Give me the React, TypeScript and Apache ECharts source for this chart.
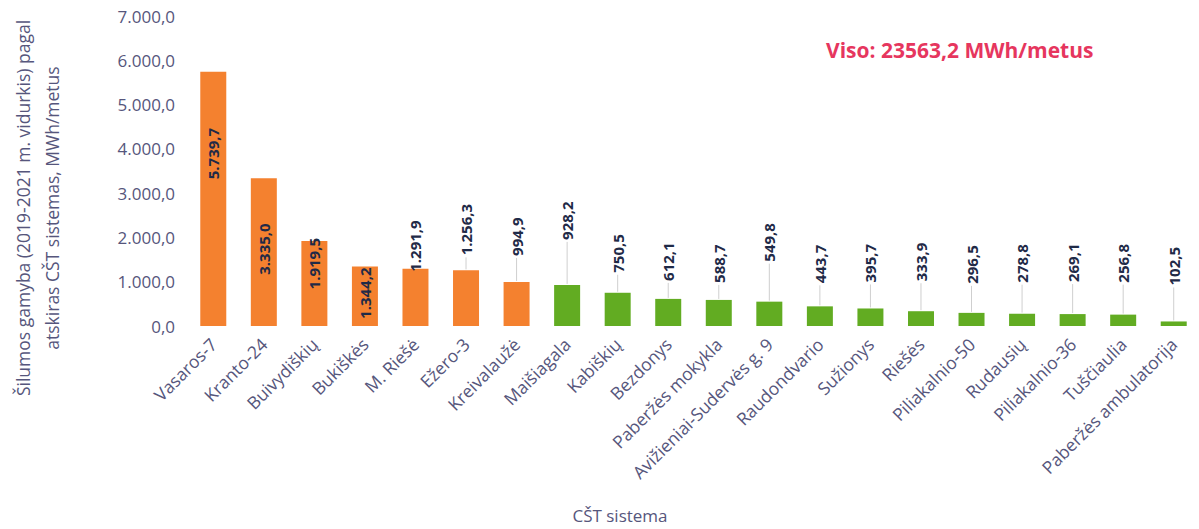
import React, { useEffect, useRef } from "react";
import * as echarts from "echarts";

const categories = [
  "Vasaros-7", "Kranto-24", "Buivydiškių", "Bukiškės", "M. Riešė", "Ežero-3", "Kreivalaužė",
  "Maišiagala", "Kabiškių", "Bezdonys", "Paberžės mokykla", "Avižieniai-Sudervės g. 9",
  "Raudondvario", "Sužionys", "Riešės", "Piliakalnio-50", "Rudausių", "Piliakalnio-36",
  "Tuščiaulia", "Paberžės ambulatorija",
];
const values = [
  5739.7, 3335.0, 1919.5, 1344.2, 1291.9, 1256.3, 994.9,
  928.2, 750.5, 612.1, 588.7, 549.8, 443.7, 395.7, 333.9, 296.5, 278.8, 269.1, 256.8, 102.5,
];
// group of each system: "o" = orange group, "g" = green group
const groups = ["o", "o", "o", "o", "o", "o", "o", "g", "g", "g", "g", "g", "g", "g", "g", "g", "g", "g", "g", "g"];
const yTicks = [0, 1000, 2000, 3000, 4000, 5000, 6000, 7000];
const totalText = "Viso: 23563,2 MWh/metus";
const yTitle = "Šilumos gamyba (2019-2021 m. vidurkis) pagal\natskiras CŠT sistemas, MWh/metus";
const xTitle = "CŠT sistema";

// label placement (style): inside labels = offset from bar top to text top (px);
// outside labels = gap from bar top up to text bottom (px)
const labelInside = [56, 45, -3, 1, null, null, null, null, null, null, null, null, null, null, null, null, null, null, null, null];
const labelGap = [0, 0, 0, 0, -3, 15, 26, 45, 20, 18, 17, 40, 23, 26, 30, 29, 31, 32, 32, 36];

const COLORS: Record<string, string> = { o: "#F4812F", g: "#62AC22" };
const LABEL = "#1f2a47";
const AXIS = "#56567c";
const FONT = "'Open Sans', 'Noto Sans', sans-serif";

const fmt = (v: number) => {
  const [i, d] = v.toFixed(1).split(".");
  return i.replace(/\B(?=(\d{3})+(?!\d))/g, ".") + "," + d;
};

function makeItem(i: number) {
  const inside = labelInside[i];
  const label: any =
    inside !== null
      ? { position: ["50%", inside], align: "right", verticalAlign: "middle" }
      : { position: ["50%", -labelGap[i]], align: "left", verticalAlign: "middle" };
  return { value: values[i], itemStyle: { color: COLORS[groups[i]] }, label };
}

export default function App() {
  const ref = useRef<HTMLDivElement>(null);
  useEffect(() => {
    if (!ref.current) return;
    const chart = echarts.init(ref.current, undefined, { renderer: "svg" });
    const barData = values.map((_, i) => makeItem(i));
    const leaderData = values
      .map((v, i) => [i, v, labelInside[i] === null ? labelGap[i] : 0])
      .filter((d) => d[2] >= 8);
    chart.setOption({
      animation: false,
      backgroundColor: "#ffffff",
      textStyle: { fontFamily: FONT },
      title: {
        text: totalText,
        left: 821,
        top: 34,
        textStyle: { color: "#e6365e", fontSize: 21, fontWeight: "bold", fontFamily: FONT },
      },
      grid: { left: 188, right: -7, top: 16, bottom: 203, containLabel: false },
      xAxis: {
        type: "category",
        data: categories,
        axisLine: { show: false },
        axisTick: { show: false },
        axisLabel: {
          rotate: 45,
          interval: 0,
          margin: 15,
          color: AXIS,
          fontSize: 17.5,
          fontFamily: FONT,
        },
      },
      yAxis: {
        type: "value",
        min: yTicks[0],
        max: yTicks[yTicks.length - 1],
        interval: 1000,
        axisLine: { show: false },
        axisTick: { show: false },
        splitLine: { show: false },
        axisLabel: {
          formatter: (v: number) => fmt(v),
          color: AXIS,
          fontSize: 17,
          margin: 13,
          fontFamily: FONT,
        },
      },
      graphic: [
        {
          type: "text",
          x: 37,
          y: 208,
          rotation: Math.PI / 2,
          style: {
            text: yTitle,
            fill: AXIS,
            fontSize: 17.5,
            lineHeight: 29,
            fontFamily: FONT,
            align: "center",
            verticalAlign: "middle",
          },
        },
        {
          type: "text",
          x: 620,
          y: 515,
          style: {
            text: xTitle,
            fill: AXIS,
            fontSize: 17,
            fontFamily: FONT,
            align: "center",
            verticalAlign: "middle",
          },
        },
      ],
      series: [
        {
          type: "bar",
          data: barData,
          barWidth: 26,
          label: {
            show: true,
            rotate: 90,
            formatter: (p: any) => fmt(p.value),
            color: LABEL,
            fontWeight: "bold",
            fontSize: 15,
            fontFamily: FONT,
          },
        },
        {
          type: "custom",
          silent: true,
          data: leaderData,
          encode: { x: 0, y: 1 },
          renderItem: (params: any, api: any) => {
            const p = api.coord([api.value(0), api.value(1)]);
            const gap = api.value(2);
            return {
              type: "line",
              shape: { x1: p[0], y1: p[1] - 1, x2: p[0], y2: p[1] - gap + 2 },
              style: { stroke: "#cfcfcf", lineWidth: 1 },
            };
          },
        },
      ],
    });
    return () => chart.dispose();
  }, []);
  return (
    <div
      ref={ref}
      style={{ position: "absolute", left: 0, top: 0, width: 1199, height: 529 }}
    />
  );
}
